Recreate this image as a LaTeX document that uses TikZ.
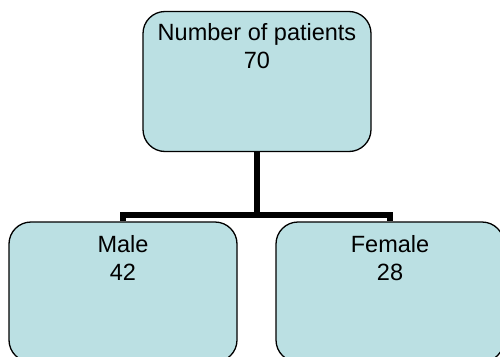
\documentclass[tikz,border=0pt]{standalone}
\usepackage{fontspec}
\setmainfont{Liberation Sans}
\definecolor{boxfill}{RGB}{187,224,227}
\tikzset{
    groupbox/.style={draw=black, line width=1.3pt, fill=boxfill, rounded corners=22pt,
        minimum width=228pt, minimum height=140pt, inner sep=0pt},
    boxtext/.style={align=center, anchor=north, inner sep=0pt,
        font=\fontsize{23.5}{28}\selectfont},
    branch/.style={line width=5.5pt}
}
\begin{document}
\begin{tikzpicture}[x=1pt,y=-1pt]
                \useasboundingbox (0,0) rectangle (500,356);
                \node[groupbox] (total) at (257,81.5) {};
                \node[groupbox] (male) at (123,292) {};
                \node[groupbox] (female) at (390,292) {};
                \node[boxtext] (totaltext) at ([yshift=-12pt]total.north) {Number of patients\\70};
                \node[boxtext] (maletext) at ([yshift=-13.5pt]male.north) {Male\\42};
                \node[boxtext] (femaletext) at ([yshift=-13.5pt]female.north) {Female\\28};
                \coordinate (split) at (257,215);
                \draw[branch] (total.south) -- (split);
                \draw[branch] (split) -| (male.north);
                \draw[branch] (split) -| (female.north);
            \end{tikzpicture}
\end{document}
